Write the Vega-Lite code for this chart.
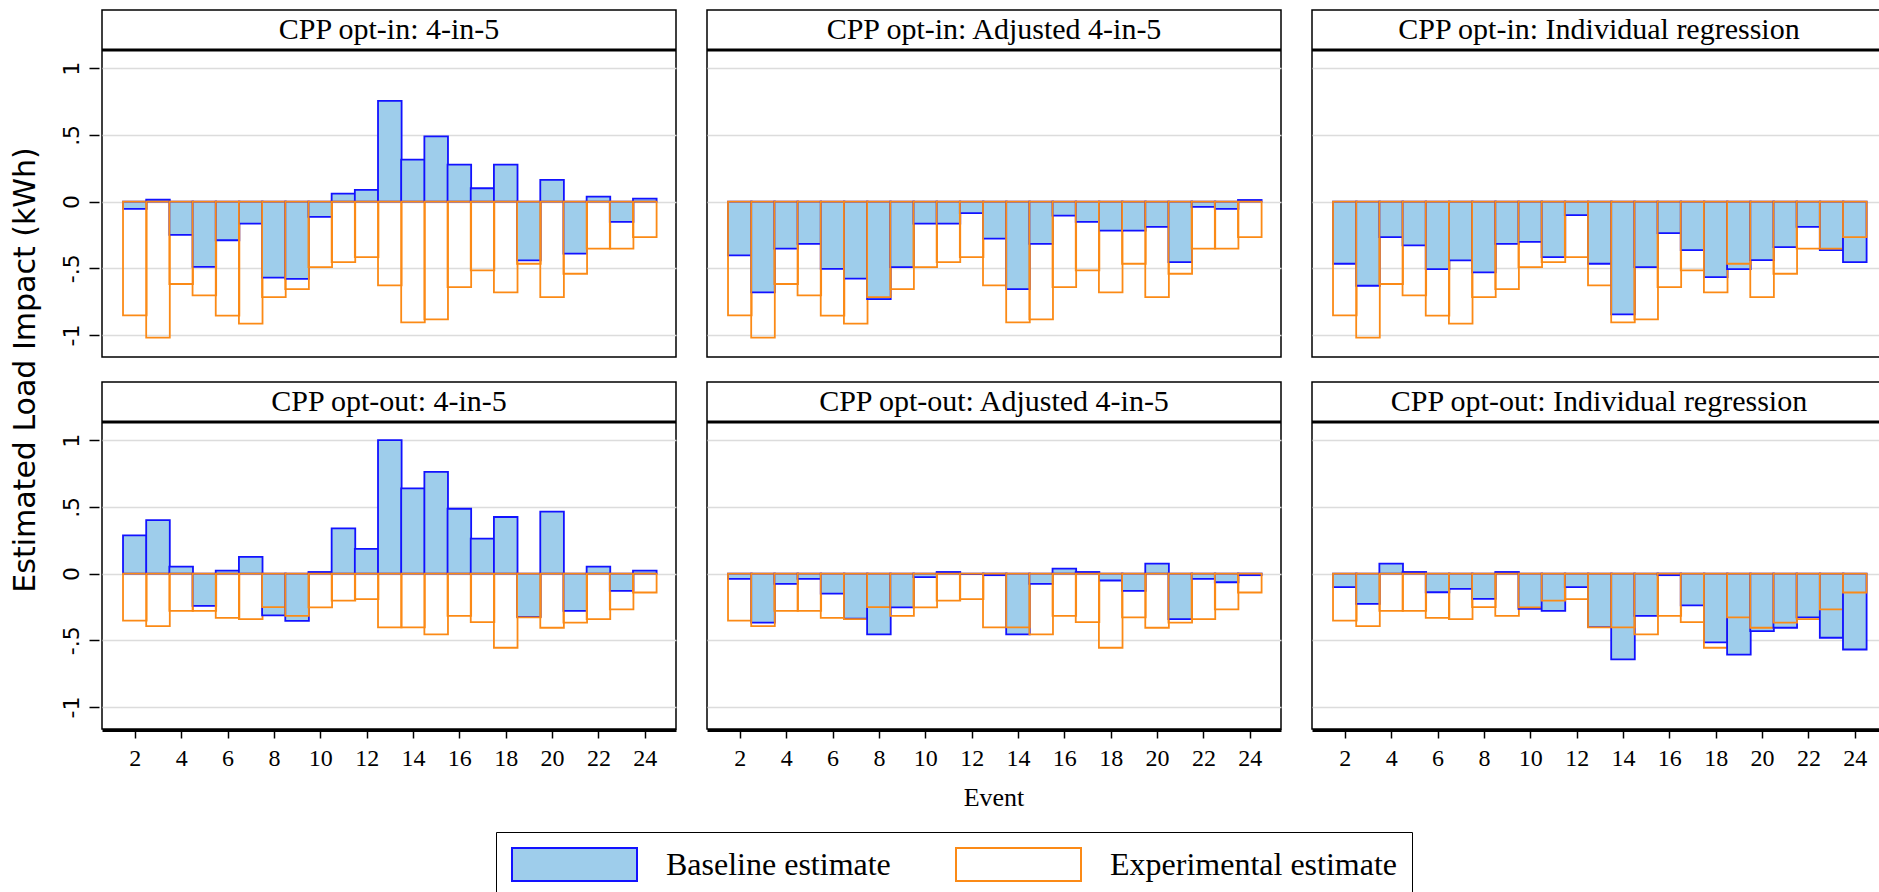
{
  "$schema": "https://vega.github.io/schema/vega-lite/v6.json",
  "background": "white",
  "padding": {"left": 10, "top": 9, "right": 0, "bottom": 0},
  "data": {"values": [
    {"group":"opt-in","method":"4-in-5","panel":"CPP opt-in: 4-in-5","event":2,"baseline":-0.055,"experimental":-0.853},
    {"group":"opt-in","method":"4-in-5","panel":"CPP opt-in: 4-in-5","event":3,"baseline":0.015,"experimental":-1.02},
    {"group":"opt-in","method":"4-in-5","panel":"CPP opt-in: 4-in-5","event":4,"baseline":-0.25,"experimental":-0.618},
    {"group":"opt-in","method":"4-in-5","panel":"CPP opt-in: 4-in-5","event":5,"baseline":-0.49,"experimental":-0.703},
    {"group":"opt-in","method":"4-in-5","panel":"CPP opt-in: 4-in-5","event":6,"baseline":-0.29,"experimental":-0.855},
    {"group":"opt-in","method":"4-in-5","panel":"CPP opt-in: 4-in-5","event":7,"baseline":-0.165,"experimental":-0.915},
    {"group":"opt-in","method":"4-in-5","panel":"CPP opt-in: 4-in-5","event":8,"baseline":-0.57,"experimental":-0.716},
    {"group":"opt-in","method":"4-in-5","panel":"CPP opt-in: 4-in-5","event":9,"baseline":-0.58,"experimental":-0.656},
    {"group":"opt-in","method":"4-in-5","panel":"CPP opt-in: 4-in-5","event":10,"baseline":-0.115,"experimental":-0.491},
    {"group":"opt-in","method":"4-in-5","panel":"CPP opt-in: 4-in-5","event":11,"baseline":0.06,"experimental":-0.454},
    {"group":"opt-in","method":"4-in-5","panel":"CPP opt-in: 4-in-5","event":12,"baseline":0.087,"experimental":-0.416},
    {"group":"opt-in","method":"4-in-5","panel":"CPP opt-in: 4-in-5","event":13,"baseline":0.755,"experimental":-0.628},
    {"group":"opt-in","method":"4-in-5","panel":"CPP opt-in: 4-in-5","event":14,"baseline":0.314,"experimental":-0.905},
    {"group":"opt-in","method":"4-in-5","panel":"CPP opt-in: 4-in-5","event":15,"baseline":0.489,"experimental":-0.883},
    {"group":"opt-in","method":"4-in-5","panel":"CPP opt-in: 4-in-5","event":16,"baseline":0.277,"experimental":-0.641},
    {"group":"opt-in","method":"4-in-5","panel":"CPP opt-in: 4-in-5","event":17,"baseline":0.1,"experimental":-0.516},
    {"group":"opt-in","method":"4-in-5","panel":"CPP opt-in: 4-in-5","event":18,"baseline":0.277,"experimental":-0.681},
    {"group":"opt-in","method":"4-in-5","panel":"CPP opt-in: 4-in-5","event":19,"baseline":-0.44,"experimental":-0.466},
    {"group":"opt-in","method":"4-in-5","panel":"CPP opt-in: 4-in-5","event":20,"baseline":0.162,"experimental":-0.716},
    {"group":"opt-in","method":"4-in-5","panel":"CPP opt-in: 4-in-5","event":21,"baseline":-0.39,"experimental":-0.541},
    {"group":"opt-in","method":"4-in-5","panel":"CPP opt-in: 4-in-5","event":22,"baseline":0.037,"experimental":-0.352},
    {"group":"opt-in","method":"4-in-5","panel":"CPP opt-in: 4-in-5","event":23,"baseline":-0.152,"experimental":-0.352},
    {"group":"opt-in","method":"4-in-5","panel":"CPP opt-in: 4-in-5","event":24,"baseline":0.022,"experimental":-0.267},

    {"group":"opt-in","method":"Adjusted 4-in-5","panel":"CPP opt-in: Adjusted 4-in-5","event":2,"baseline":-0.404,"experimental":-0.853},
    {"group":"opt-in","method":"Adjusted 4-in-5","panel":"CPP opt-in: Adjusted 4-in-5","event":3,"baseline":-0.68,"experimental":-1.02},
    {"group":"opt-in","method":"Adjusted 4-in-5","panel":"CPP opt-in: Adjusted 4-in-5","event":4,"baseline":-0.352,"experimental":-0.618},
    {"group":"opt-in","method":"Adjusted 4-in-5","panel":"CPP opt-in: Adjusted 4-in-5","event":5,"baseline":-0.317,"experimental":-0.703},
    {"group":"opt-in","method":"Adjusted 4-in-5","panel":"CPP opt-in: Adjusted 4-in-5","event":6,"baseline":-0.504,"experimental":-0.855},
    {"group":"opt-in","method":"Adjusted 4-in-5","panel":"CPP opt-in: Adjusted 4-in-5","event":7,"baseline":-0.578,"experimental":-0.915},
    {"group":"opt-in","method":"Adjusted 4-in-5","panel":"CPP opt-in: Adjusted 4-in-5","event":8,"baseline":-0.731,"experimental":-0.716},
    {"group":"opt-in","method":"Adjusted 4-in-5","panel":"CPP opt-in: Adjusted 4-in-5","event":9,"baseline":-0.491,"experimental":-0.656},
    {"group":"opt-in","method":"Adjusted 4-in-5","panel":"CPP opt-in: Adjusted 4-in-5","event":10,"baseline":-0.165,"experimental":-0.491},
    {"group":"opt-in","method":"Adjusted 4-in-5","panel":"CPP opt-in: Adjusted 4-in-5","event":11,"baseline":-0.165,"experimental":-0.454},
    {"group":"opt-in","method":"Adjusted 4-in-5","panel":"CPP opt-in: Adjusted 4-in-5","event":12,"baseline":-0.087,"experimental":-0.416},
    {"group":"opt-in","method":"Adjusted 4-in-5","panel":"CPP opt-in: Adjusted 4-in-5","event":13,"baseline":-0.277,"experimental":-0.628},
    {"group":"opt-in","method":"Adjusted 4-in-5","panel":"CPP opt-in: Adjusted 4-in-5","event":14,"baseline":-0.656,"experimental":-0.905},
    {"group":"opt-in","method":"Adjusted 4-in-5","panel":"CPP opt-in: Adjusted 4-in-5","event":15,"baseline":-0.317,"experimental":-0.883},
    {"group":"opt-in","method":"Adjusted 4-in-5","panel":"CPP opt-in: Adjusted 4-in-5","event":16,"baseline":-0.105,"experimental":-0.641},
    {"group":"opt-in","method":"Adjusted 4-in-5","panel":"CPP opt-in: Adjusted 4-in-5","event":17,"baseline":-0.152,"experimental":-0.516},
    {"group":"opt-in","method":"Adjusted 4-in-5","panel":"CPP opt-in: Adjusted 4-in-5","event":18,"baseline":-0.217,"experimental":-0.681},
    {"group":"opt-in","method":"Adjusted 4-in-5","panel":"CPP opt-in: Adjusted 4-in-5","event":19,"baseline":-0.217,"experimental":-0.466},
    {"group":"opt-in","method":"Adjusted 4-in-5","panel":"CPP opt-in: Adjusted 4-in-5","event":20,"baseline":-0.19,"experimental":-0.716},
    {"group":"opt-in","method":"Adjusted 4-in-5","panel":"CPP opt-in: Adjusted 4-in-5","event":21,"baseline":-0.454,"experimental":-0.541},
    {"group":"opt-in","method":"Adjusted 4-in-5","panel":"CPP opt-in: Adjusted 4-in-5","event":22,"baseline":-0.04,"experimental":-0.352},
    {"group":"opt-in","method":"Adjusted 4-in-5","panel":"CPP opt-in: Adjusted 4-in-5","event":23,"baseline":-0.055,"experimental":-0.352},
    {"group":"opt-in","method":"Adjusted 4-in-5","panel":"CPP opt-in: Adjusted 4-in-5","event":24,"baseline":0.012,"experimental":-0.267},

    {"group":"opt-in","method":"Individual regression","panel":"CPP opt-in: Individual regression","event":2,"baseline":-0.466,"experimental":-0.853},
    {"group":"opt-in","method":"Individual regression","panel":"CPP opt-in: Individual regression","event":3,"baseline":-0.631,"experimental":-1.02},
    {"group":"opt-in","method":"Individual regression","panel":"CPP opt-in: Individual regression","event":4,"baseline":-0.267,"experimental":-0.618},
    {"group":"opt-in","method":"Individual regression","panel":"CPP opt-in: Individual regression","event":5,"baseline":-0.329,"experimental":-0.703},
    {"group":"opt-in","method":"Individual regression","panel":"CPP opt-in: Individual regression","event":6,"baseline":-0.506,"experimental":-0.855},
    {"group":"opt-in","method":"Individual regression","panel":"CPP opt-in: Individual regression","event":7,"baseline":-0.441,"experimental":-0.915},
    {"group":"opt-in","method":"Individual regression","panel":"CPP opt-in: Individual regression","event":8,"baseline":-0.531,"experimental":-0.716},
    {"group":"opt-in","method":"Individual regression","panel":"CPP opt-in: Individual regression","event":9,"baseline":-0.317,"experimental":-0.656},
    {"group":"opt-in","method":"Individual regression","panel":"CPP opt-in: Individual regression","event":10,"baseline":-0.302,"experimental":-0.491},
    {"group":"opt-in","method":"Individual regression","panel":"CPP opt-in: Individual regression","event":11,"baseline":-0.416,"experimental":-0.454},
    {"group":"opt-in","method":"Individual regression","panel":"CPP opt-in: Individual regression","event":12,"baseline":-0.102,"experimental":-0.416},
    {"group":"opt-in","method":"Individual regression","panel":"CPP opt-in: Individual regression","event":13,"baseline":-0.466,"experimental":-0.628},
    {"group":"opt-in","method":"Individual regression","panel":"CPP opt-in: Individual regression","event":14,"baseline":-0.845,"experimental":-0.905},
    {"group":"opt-in","method":"Individual regression","panel":"CPP opt-in: Individual regression","event":15,"baseline":-0.491,"experimental":-0.883},
    {"group":"opt-in","method":"Individual regression","panel":"CPP opt-in: Individual regression","event":16,"baseline":-0.237,"experimental":-0.641},
    {"group":"opt-in","method":"Individual regression","panel":"CPP opt-in: Individual regression","event":17,"baseline":-0.364,"experimental":-0.516},
    {"group":"opt-in","method":"Individual regression","panel":"CPP opt-in: Individual regression","event":18,"baseline":-0.566,"experimental":-0.681},
    {"group":"opt-in","method":"Individual regression","panel":"CPP opt-in: Individual regression","event":19,"baseline":-0.506,"experimental":-0.466},
    {"group":"opt-in","method":"Individual regression","panel":"CPP opt-in: Individual regression","event":20,"baseline":-0.439,"experimental":-0.716},
    {"group":"opt-in","method":"Individual regression","panel":"CPP opt-in: Individual regression","event":21,"baseline":-0.342,"experimental":-0.541},
    {"group":"opt-in","method":"Individual regression","panel":"CPP opt-in: Individual regression","event":22,"baseline":-0.19,"experimental":-0.352},
    {"group":"opt-in","method":"Individual regression","panel":"CPP opt-in: Individual regression","event":23,"baseline":-0.364,"experimental":-0.352},
    {"group":"opt-in","method":"Individual regression","panel":"CPP opt-in: Individual regression","event":24,"baseline":-0.454,"experimental":-0.267},

    {"group":"opt-out","method":"4-in-5","panel":"CPP opt-out: 4-in-5","event":2,"baseline":0.287,"experimental":-0.352},
    {"group":"opt-out","method":"4-in-5","panel":"CPP opt-out: 4-in-5","event":3,"baseline":0.401,"experimental":-0.394},
    {"group":"opt-out","method":"4-in-5","panel":"CPP opt-out: 4-in-5","event":4,"baseline":0.052,"experimental":-0.279},
    {"group":"opt-out","method":"4-in-5","panel":"CPP opt-out: 4-in-5","event":5,"baseline":-0.242,"experimental":-0.279},
    {"group":"opt-out","method":"4-in-5","panel":"CPP opt-out: 4-in-5","event":6,"baseline":0.022,"experimental":-0.332},
    {"group":"opt-out","method":"4-in-5","panel":"CPP opt-out: 4-in-5","event":7,"baseline":0.125,"experimental":-0.342},
    {"group":"opt-out","method":"4-in-5","panel":"CPP opt-out: 4-in-5","event":8,"baseline":-0.314,"experimental":-0.252},
    {"group":"opt-out","method":"4-in-5","panel":"CPP opt-out: 4-in-5","event":9,"baseline":-0.354,"experimental":-0.317},
    {"group":"opt-out","method":"4-in-5","panel":"CPP opt-out: 4-in-5","event":10,"baseline":0.012,"experimental":-0.254},
    {"group":"opt-out","method":"4-in-5","panel":"CPP opt-out: 4-in-5","event":11,"baseline":0.339,"experimental":-0.202},
    {"group":"opt-out","method":"4-in-5","panel":"CPP opt-out: 4-in-5","event":12,"baseline":0.185,"experimental":-0.192},
    {"group":"opt-out","method":"4-in-5","panel":"CPP opt-out: 4-in-5","event":13,"baseline":1.0,"experimental":-0.404},
    {"group":"opt-out","method":"4-in-5","panel":"CPP opt-out: 4-in-5","event":14,"baseline":0.638,"experimental":-0.404},
    {"group":"opt-out","method":"4-in-5","panel":"CPP opt-out: 4-in-5","event":15,"baseline":0.763,"experimental":-0.456},
    {"group":"opt-out","method":"4-in-5","panel":"CPP opt-out: 4-in-5","event":16,"baseline":0.486,"experimental":-0.317},
    {"group":"opt-out","method":"4-in-5","panel":"CPP opt-out: 4-in-5","event":17,"baseline":0.262,"experimental":-0.364},
    {"group":"opt-out","method":"4-in-5","panel":"CPP opt-out: 4-in-5","event":18,"baseline":0.424,"experimental":-0.556},
    {"group":"opt-out","method":"4-in-5","panel":"CPP opt-out: 4-in-5","event":19,"baseline":-0.325,"experimental":-0.329},
    {"group":"opt-out","method":"4-in-5","panel":"CPP opt-out: 4-in-5","event":20,"baseline":0.464,"experimental":-0.406},
    {"group":"opt-out","method":"4-in-5","panel":"CPP opt-out: 4-in-5","event":21,"baseline":-0.279,"experimental":-0.367},
    {"group":"opt-out","method":"4-in-5","panel":"CPP opt-out: 4-in-5","event":22,"baseline":0.052,"experimental":-0.342},
    {"group":"opt-out","method":"4-in-5","panel":"CPP opt-out: 4-in-5","event":23,"baseline":-0.13,"experimental":-0.269},
    {"group":"opt-out","method":"4-in-5","panel":"CPP opt-out: 4-in-5","event":24,"baseline":0.022,"experimental":-0.142},

    {"group":"opt-out","method":"Adjusted 4-in-5","panel":"CPP opt-out: Adjusted 4-in-5","event":2,"baseline":-0.04,"experimental":-0.352},
    {"group":"opt-out","method":"Adjusted 4-in-5","panel":"CPP opt-out: Adjusted 4-in-5","event":3,"baseline":-0.367,"experimental":-0.394},
    {"group":"opt-out","method":"Adjusted 4-in-5","panel":"CPP opt-out: Adjusted 4-in-5","event":4,"baseline":-0.077,"experimental":-0.279},
    {"group":"opt-out","method":"Adjusted 4-in-5","panel":"CPP opt-out: Adjusted 4-in-5","event":5,"baseline":-0.04,"experimental":-0.279},
    {"group":"opt-out","method":"Adjusted 4-in-5","panel":"CPP opt-out: Adjusted 4-in-5","event":6,"baseline":-0.15,"experimental":-0.332},
    {"group":"opt-out","method":"Adjusted 4-in-5","panel":"CPP opt-out: Adjusted 4-in-5","event":7,"baseline":-0.338,"experimental":-0.342},
    {"group":"opt-out","method":"Adjusted 4-in-5","panel":"CPP opt-out: Adjusted 4-in-5","event":8,"baseline":-0.456,"experimental":-0.252},
    {"group":"opt-out","method":"Adjusted 4-in-5","panel":"CPP opt-out: Adjusted 4-in-5","event":9,"baseline":-0.254,"experimental":-0.317},
    {"group":"opt-out","method":"Adjusted 4-in-5","panel":"CPP opt-out: Adjusted 4-in-5","event":10,"baseline":-0.027,"experimental":-0.254},
    {"group":"opt-out","method":"Adjusted 4-in-5","panel":"CPP opt-out: Adjusted 4-in-5","event":11,"baseline":0.012,"experimental":-0.202},
    {"group":"opt-out","method":"Adjusted 4-in-5","panel":"CPP opt-out: Adjusted 4-in-5","event":12,"baseline":-0.003,"experimental":-0.192},
    {"group":"opt-out","method":"Adjusted 4-in-5","panel":"CPP opt-out: Adjusted 4-in-5","event":13,"baseline":-0.012,"experimental":-0.404},
    {"group":"opt-out","method":"Adjusted 4-in-5","panel":"CPP opt-out: Adjusted 4-in-5","event":14,"baseline":-0.456,"experimental":-0.404},
    {"group":"opt-out","method":"Adjusted 4-in-5","panel":"CPP opt-out: Adjusted 4-in-5","event":15,"baseline":-0.077,"experimental":-0.456},
    {"group":"opt-out","method":"Adjusted 4-in-5","panel":"CPP opt-out: Adjusted 4-in-5","event":16,"baseline":0.037,"experimental":-0.317},
    {"group":"opt-out","method":"Adjusted 4-in-5","panel":"CPP opt-out: Adjusted 4-in-5","event":17,"baseline":0.012,"experimental":-0.364},
    {"group":"opt-out","method":"Adjusted 4-in-5","panel":"CPP opt-out: Adjusted 4-in-5","event":18,"baseline":-0.052,"experimental":-0.556},
    {"group":"opt-out","method":"Adjusted 4-in-5","panel":"CPP opt-out: Adjusted 4-in-5","event":19,"baseline":-0.13,"experimental":-0.329},
    {"group":"opt-out","method":"Adjusted 4-in-5","panel":"CPP opt-out: Adjusted 4-in-5","event":20,"baseline":0.075,"experimental":-0.406},
    {"group":"opt-out","method":"Adjusted 4-in-5","panel":"CPP opt-out: Adjusted 4-in-5","event":21,"baseline":-0.342,"experimental":-0.367},
    {"group":"opt-out","method":"Adjusted 4-in-5","panel":"CPP opt-out: Adjusted 4-in-5","event":22,"baseline":-0.04,"experimental":-0.342},
    {"group":"opt-out","method":"Adjusted 4-in-5","panel":"CPP opt-out: Adjusted 4-in-5","event":23,"baseline":-0.065,"experimental":-0.269},
    {"group":"opt-out","method":"Adjusted 4-in-5","panel":"CPP opt-out: Adjusted 4-in-5","event":24,"baseline":-0.012,"experimental":-0.142},

    {"group":"opt-out","method":"Individual regression","panel":"CPP opt-out: Individual regression","event":2,"baseline":-0.102,"experimental":-0.352},
    {"group":"opt-out","method":"Individual regression","panel":"CPP opt-out: Individual regression","event":3,"baseline":-0.227,"experimental":-0.394},
    {"group":"opt-out","method":"Individual regression","panel":"CPP opt-out: Individual regression","event":4,"baseline":0.075,"experimental":-0.279},
    {"group":"opt-out","method":"Individual regression","panel":"CPP opt-out: Individual regression","event":5,"baseline":0.012,"experimental":-0.279},
    {"group":"opt-out","method":"Individual regression","panel":"CPP opt-out: Individual regression","event":6,"baseline":-0.14,"experimental":-0.332},
    {"group":"opt-out","method":"Individual regression","panel":"CPP opt-out: Individual regression","event":7,"baseline":-0.115,"experimental":-0.342},
    {"group":"opt-out","method":"Individual regression","panel":"CPP opt-out: Individual regression","event":8,"baseline":-0.19,"experimental":-0.252},
    {"group":"opt-out","method":"Individual regression","panel":"CPP opt-out: Individual regression","event":9,"baseline":0.012,"experimental":-0.317},
    {"group":"opt-out","method":"Individual regression","panel":"CPP opt-out: Individual regression","event":10,"baseline":-0.264,"experimental":-0.254},
    {"group":"opt-out","method":"Individual regression","panel":"CPP opt-out: Individual regression","event":11,"baseline":-0.279,"experimental":-0.202},
    {"group":"opt-out","method":"Individual regression","panel":"CPP opt-out: Individual regression","event":12,"baseline":-0.102,"experimental":-0.192},
    {"group":"opt-out","method":"Individual regression","panel":"CPP opt-out: Individual regression","event":13,"baseline":-0.402,"experimental":-0.404},
    {"group":"opt-out","method":"Individual regression","panel":"CPP opt-out: Individual regression","event":14,"baseline":-0.643,"experimental":-0.404},
    {"group":"opt-out","method":"Individual regression","panel":"CPP opt-out: Individual regression","event":15,"baseline":-0.317,"experimental":-0.456},
    {"group":"opt-out","method":"Individual regression","panel":"CPP opt-out: Individual regression","event":16,"baseline":-0.012,"experimental":-0.317},
    {"group":"opt-out","method":"Individual regression","panel":"CPP opt-out: Individual regression","event":17,"baseline":-0.239,"experimental":-0.364},
    {"group":"opt-out","method":"Individual regression","panel":"CPP opt-out: Individual regression","event":18,"baseline":-0.516,"experimental":-0.556},
    {"group":"opt-out","method":"Individual regression","panel":"CPP opt-out: Individual regression","event":19,"baseline":-0.608,"experimental":-0.329},
    {"group":"opt-out","method":"Individual regression","panel":"CPP opt-out: Individual regression","event":20,"baseline":-0.431,"experimental":-0.406},
    {"group":"opt-out","method":"Individual regression","panel":"CPP opt-out: Individual regression","event":21,"baseline":-0.406,"experimental":-0.367},
    {"group":"opt-out","method":"Individual regression","panel":"CPP opt-out: Individual regression","event":22,"baseline":-0.329,"experimental":-0.342},
    {"group":"opt-out","method":"Individual regression","panel":"CPP opt-out: Individual regression","event":23,"baseline":-0.481,"experimental":-0.269},
    {"group":"opt-out","method":"Individual regression","panel":"CPP opt-out: Individual regression","event":24,"baseline":-0.569,"experimental":-0.142}
  ]},
  "facet": {
    "row": {"field": "group", "type": "nominal", "sort": ["opt-in", "opt-out"],
      "header": {"labels": false, "title": "Estimated Load Impact (kWh)", "titleOrient": "left", "titleAngle": 270,
        "titleFont": "DejaVu Sans", "titleFontSize": 30, "titleFontWeight": "normal", "titleColor": "black", "titlePadding": -21}},
    "column": {"field": "method", "type": "nominal", "sort": ["4-in-5", "Adjusted 4-in-5", "Individual regression"],
      "header": {"labels": false, "title": "Event", "titleOrient": "bottom",
        "titleFont": "Liberation Serif", "titleFontSize": 26, "titleFontWeight": "normal", "titleColor": "black", "titlePadding": 5}}
  },
  "spacing": {"row": 23, "column": 25},
  "spec": {
    "width": 574,
    "height": 347,
    "layer": [
      {
        "transform": [{"fold": ["baseline", "experimental"], "as": ["series", "value"]}],
        "mark": {"type": "bar", "orient": "vertical", "width": 23.6, "strokeWidth": 1.8},
        "encoding": {
          "x": {"field": "event", "type": "quantitative",
            "scale": {"domain": [0.8, 25.13], "nice": false, "zero": false},
            "axis": {"values": [2,4,6,8,10,12,14,16,18,20,22,24], "title": null, "grid": false,
              "domain": true, "domainColor": "black", "domainWidth": 3,
              "ticks": true, "tickSize": 8, "tickWidth": 1.5, "tickColor": "black",
              "labelFont": "Liberation Serif", "labelFontSize": 24, "labelColor": "black", "labelPadding": 8}},
          "y": {"field": "value", "type": "quantitative", "stack": null,
            "scale": {"domain": [-1.165, 1.436], "nice": false},
            "axis": {"values": [-1, -0.5, 0, 0.5, 1], "title": null, "grid": true, "gridColor": "#dcdcdc", "gridWidth": 1.5,
              "domain": false, "tickSize": 10, "tickWidth": 1.5, "tickColor": "black",
              "labelAngle": 270, "labelAlign": "center", "labelBaseline": "bottom",
              "labelFont": "DejaVu Sans", "labelFontSize": 22, "labelColor": "black", "labelPadding": 6,
              "labelExpr": "datum.value == 0.5 ? '.5' : datum.value == -0.5 ? '-.5' : toString(datum.value)"}},
          "fill": {"field": "series", "type": "nominal",
            "scale": {"domain": ["baseline", "experimental"], "range": ["#9ecdeb", "transparent"]},
            "legend": {"title": null, "orient": "none", "legendX": 394, "legendY": 822, "direction": "horizontal",
              "labelExpr": "datum.label == 'baseline' ? 'Baseline estimate' : 'Experimental estimate'",
              "symbolType": "M-3.788,-1H3.788V1H-3.788Z", "symbolSize": 1089, "symbolStrokeWidth": 2,
              "symbolOffset": 46, "labelOffset": 74, "labelLimit": 500,
              "labelFont": "Liberation Serif", "labelFontSize": 32, "labelColor": "black",
              "columnPadding": 60, "strokeColor": "black", "padding": 15}},
          "stroke": {"field": "series", "type": "nominal",
            "scale": {"domain": ["baseline", "experimental"], "range": ["#1212ff", "#fb8a16"]}}
        }
      },
      {
        "transform": [{"aggregate": [{"op": "count", "as": "n"}], "groupby": ["panel", "group", "method"]}],
        "mark": {"type": "rule", "color": "black", "strokeWidth": 3},
        "encoding": {"y": {"datum": 1.137}}
      },
      {
        "transform": [{"aggregate": [{"op": "count", "as": "n"}], "groupby": ["panel", "group", "method"]}],
        "mark": {"type": "text", "font": "Liberation Serif", "fontSize": 30, "color": "black", "align": "center", "baseline": "middle"},
        "encoding": {"text": {"field": "panel"}, "x": {"datum": 12.965}, "y": {"datum": 1.288}}
      }
    ]
  },
  "config": {
    "view": {"stroke": "black", "strokeWidth": 1.5}
  }
}
